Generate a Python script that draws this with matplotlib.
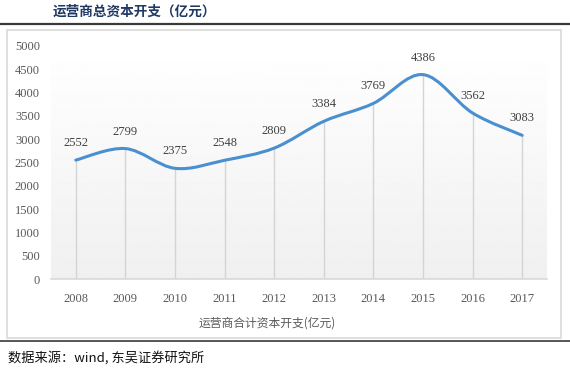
import numpy as np
import matplotlib
matplotlib.use("Agg")
import matplotlib.pyplot as plt
from matplotlib.path import Path
from matplotlib.patches import PathPatch, Rectangle
from matplotlib.lines import Line2D

plt.rcParams['font.family'] = ['Noto Sans CJK SC', 'DejaVu Sans']

# data
years = ['2008', '2009', '2010', '2011', '2012', '2013', '2014', '2015', '2016', '2017']
capex = [2552, 2799, 2375, 2548, 2809, 3384, 3769, 4386, 3562, 3083]
yticks = [0, 500, 1000, 1500, 2000, 2500, 3000, 3500, 4000, 4500, 5000]

title = '运营商总资本开支（亿元）'
series_name = '运营商合计资本开支(亿元)'
source = '数据来源：wind, 东吴证券研究所'

W, H = 570, 372
fig = plt.figure(figsize=(W / 100, H / 100), dpi=100)

def px(x, y):
    # pixel coords (from top-left) -> figure fraction
    return x / W, 1 - y / H

# title, rules, frame
fig.text(*px(53, 12), title, fontsize=9.8, fontweight='bold', color='#1f3864',
         ha='left', va='center')
fig.add_artist(Line2D([0, 1], [1 - 24 / H] * 2, color='#3a3a3a', lw=1.6))
fig.add_artist(Line2D([0, 1], [1 - 341 / H] * 2, color='#3a3a3a', lw=1.2))
fig.add_artist(Rectangle(px(7, 338), (561 - 7) / W, (338 - 30) / H, fill=False,
                         edgecolor='#d9d9d9', lw=1.2))
fig.text(*px(8, 358), source, fontsize=9.5, color='#111111', ha='left', va='center')

# plot area
left, right, top, bottom = 51, 547, 46, 279
ax = fig.add_axes([left / W, 1 - bottom / H, (right - left) / W, (bottom - top) / H])
x = np.arange(len(years))
ax.set_xlim(-0.5, len(years) - 0.5)
ax.set_ylim(0, 5000)

# soft gradient background
grad = np.linspace(1.0, 0.94, 256).reshape(-1, 1)
ax.imshow(grad, cmap='gray', vmin=0, vmax=1, aspect='auto',
          extent=[-0.5, len(years) - 0.5, 0, 5000], origin='upper', zorder=0)

ax.vlines(x, 0, capex, color='#d4d4d4', lw=1, zorder=1)

# smoothed line (bezier through the points)
pts = np.column_stack([x, capex]).astype(float)
ext = np.vstack([pts[0], pts, pts[-1]])
verts = [tuple(pts[0])]
codes = [Path.MOVETO]
for i in range(len(pts) - 1):
    p0, p1, p2, p3 = ext[i], ext[i + 1], ext[i + 2], ext[i + 3]
    c1 = p1 + (p2 - p0) / 6
    c2 = p2 - (p3 - p1) / 6
    verts += [tuple(c1), tuple(c2), tuple(p2)]
    codes += [Path.CURVE4] * 3
ax.add_patch(PathPatch(Path(verts, codes), fill=False, edgecolor='#4a8fd0',
                       lw=2.2, capstyle='round', zorder=3))

for xi, v in zip(x, capex):
    ax.annotate(str(v), (xi, v), xytext=(0, 17), textcoords='offset pixels',
                ha='center', va='center', fontsize=9, color='#404040',
                family='Liberation Serif')

for s in ['top', 'right', 'left']:
    ax.spines[s].set_visible(False)
ax.spines['bottom'].set_color('#d9d9d9')
ax.spines['bottom'].set_linewidth(1.2)
ax.set_xticks(x)
ax.set_xticklabels(years)
ax.set_yticks(yticks)
ax.tick_params(length=0, labelsize=9, labelcolor='#595959')
ax.tick_params(axis='x', pad=10)
ax.tick_params(axis='y', pad=8)
for lab in ax.get_xticklabels() + ax.get_yticklabels():
    lab.set_family('Liberation Serif')

fig.text(*px(267, 323), series_name, fontsize=8.5, color='#595959',
         ha='center', va='center')

fig.savefig('out.png', dpi=100)
